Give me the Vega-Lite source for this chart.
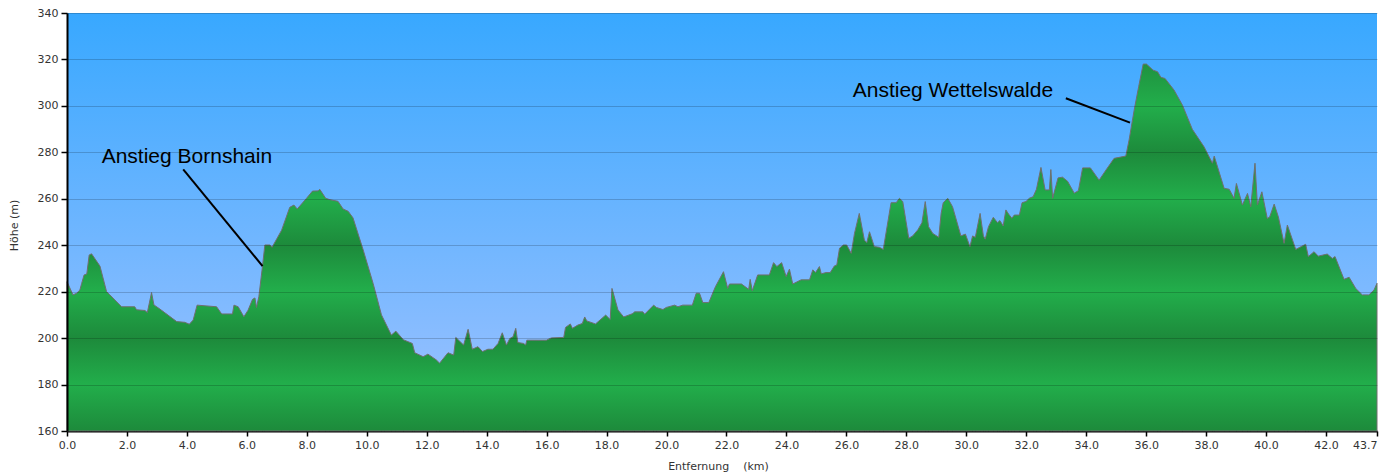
{
  "$schema": "https://vega.github.io/schema/vega-lite/v6.json",
  "width": 1310,
  "height": 418,
  "autosize": {"type": "none"},
  "padding": {"left": 67, "top": 13, "right": 15, "bottom": 42},
  "background": "white",
  "config": {"view": {"stroke": null}},
  "datasets": {
    "profil": [
      {"km": 0.0, "hoehe": 224.3}, {"km": 0.2, "hoehe": 218.6}, {"km": 0.32, "hoehe": 219.3}, {"km": 0.43, "hoehe": 220.7},
      {"km": 0.49, "hoehe": 223.6}, {"km": 0.57, "hoehe": 227.2}, {"km": 0.66, "hoehe": 227.6}, {"km": 0.74, "hoehe": 235.8},
      {"km": 0.82, "hoehe": 236.3}, {"km": 1.1, "hoehe": 231.0}, {"km": 1.32, "hoehe": 220.0}, {"km": 1.43, "hoehe": 218.6},
      {"km": 1.82, "hoehe": 213.5}, {"km": 2.26, "hoehe": 213.5}, {"km": 2.32, "hoehe": 212.2}, {"km": 2.6, "hoehe": 211.9},
      {"km": 2.68, "hoehe": 211.0}, {"km": 2.82, "hoehe": 219.6}, {"km": 2.9, "hoehe": 214.3}, {"km": 3.1, "hoehe": 212.5},
      {"km": 3.66, "hoehe": 207.1}, {"km": 3.93, "hoehe": 206.8}, {"km": 4.08, "hoehe": 206.0}, {"km": 4.21, "hoehe": 207.8},
      {"km": 4.34, "hoehe": 214.2}, {"km": 4.99, "hoehe": 213.5}, {"km": 5.16, "hoehe": 210.4}, {"km": 5.52, "hoehe": 210.4},
      {"km": 5.57, "hoehe": 214.2}, {"km": 5.71, "hoehe": 213.5}, {"km": 5.9, "hoehe": 209.2}, {"km": 6.04, "hoehe": 212.0},
      {"km": 6.19, "hoehe": 216.7}, {"km": 6.27, "hoehe": 217.3}, {"km": 6.32, "hoehe": 213.2}, {"km": 6.4, "hoehe": 217.8},
      {"km": 6.52, "hoehe": 230.8}, {"km": 6.6, "hoehe": 240.1}, {"km": 6.77, "hoehe": 240.1}, {"km": 6.84, "hoehe": 239.1},
      {"km": 7.16, "hoehe": 246.5}, {"km": 7.43, "hoehe": 256.3}, {"km": 7.57, "hoehe": 257.3}, {"km": 7.68, "hoehe": 255.6},
      {"km": 7.99, "hoehe": 260.2}, {"km": 8.19, "hoehe": 263.3}, {"km": 8.38, "hoehe": 263.4}, {"km": 8.43, "hoehe": 264.1},
      {"km": 8.63, "hoehe": 260.2}, {"km": 8.77, "hoehe": 259.6}, {"km": 9.04, "hoehe": 258.9}, {"km": 9.21, "hoehe": 255.6},
      {"km": 9.38, "hoehe": 254.6}, {"km": 9.54, "hoehe": 251.8}, {"km": 9.88, "hoehe": 238.0}, {"km": 10.21, "hoehe": 223.6},
      {"km": 10.49, "hoehe": 210.0}, {"km": 10.6, "hoehe": 207.1}, {"km": 10.82, "hoehe": 201.3}, {"km": 10.97, "hoehe": 203.0},
      {"km": 11.22, "hoehe": 199.3}, {"km": 11.52, "hoehe": 197.7}, {"km": 11.6, "hoehe": 193.7}, {"km": 11.88, "hoehe": 192.0},
      {"km": 12.04, "hoehe": 193.1}, {"km": 12.32, "hoehe": 190.6}, {"km": 12.43, "hoehe": 189.2}, {"km": 12.71, "hoehe": 193.7},
      {"km": 12.9, "hoehe": 192.7}, {"km": 12.97, "hoehe": 200.3}, {"km": 13.23, "hoehe": 197.0}, {"km": 13.38, "hoehe": 203.8},
      {"km": 13.52, "hoehe": 195.2}, {"km": 13.71, "hoehe": 196.3}, {"km": 13.86, "hoehe": 194.2}, {"km": 14.04, "hoehe": 195.2},
      {"km": 14.21, "hoehe": 195.2}, {"km": 14.38, "hoehe": 197.7}, {"km": 14.52, "hoehe": 202.3}, {"km": 14.66, "hoehe": 197.0},
      {"km": 14.77, "hoehe": 199.8}, {"km": 14.88, "hoehe": 200.6}, {"km": 14.97, "hoehe": 204.2}, {"km": 15.04, "hoehe": 198.1},
      {"km": 15.23, "hoehe": 197.7}, {"km": 15.3, "hoehe": 197.0}, {"km": 15.34, "hoehe": 199.1}, {"km": 15.99, "hoehe": 199.1},
      {"km": 16.16, "hoehe": 200.1}, {"km": 16.57, "hoehe": 200.3}, {"km": 16.63, "hoehe": 204.6}, {"km": 16.79, "hoehe": 206.1},
      {"km": 16.86, "hoehe": 204.2}, {"km": 17.04, "hoehe": 205.6}, {"km": 17.19, "hoehe": 206.3}, {"km": 17.27, "hoehe": 209.1},
      {"km": 17.34, "hoehe": 207.4}, {"km": 17.63, "hoehe": 206.1}, {"km": 17.97, "hoehe": 209.9}, {"km": 18.12, "hoehe": 208.0},
      {"km": 18.18, "hoehe": 221.4}, {"km": 18.38, "hoehe": 212.1}, {"km": 18.57, "hoehe": 209.1}, {"km": 18.88, "hoehe": 210.6},
      {"km": 18.93, "hoehe": 211.3}, {"km": 19.21, "hoehe": 211.3}, {"km": 19.27, "hoehe": 210.3}, {"km": 19.57, "hoehe": 214.2},
      {"km": 19.66, "hoehe": 213.2}, {"km": 19.88, "hoehe": 212.3}, {"km": 19.99, "hoehe": 213.2}, {"km": 20.27, "hoehe": 214.2},
      {"km": 20.38, "hoehe": 213.5}, {"km": 20.54, "hoehe": 214.2}, {"km": 20.86, "hoehe": 214.2}, {"km": 20.99, "hoehe": 219.3},
      {"km": 21.1, "hoehe": 219.3}, {"km": 21.21, "hoehe": 215.3}, {"km": 21.41, "hoehe": 215.3}, {"km": 21.63, "hoehe": 222.1},
      {"km": 21.9, "hoehe": 228.6}, {"km": 22.04, "hoehe": 221.4}, {"km": 22.1, "hoehe": 223.3}, {"km": 22.5, "hoehe": 223.3},
      {"km": 22.74, "hoehe": 221.0}, {"km": 22.79, "hoehe": 225.3}, {"km": 22.86, "hoehe": 220.4}, {"km": 23.04, "hoehe": 227.2},
      {"km": 23.43, "hoehe": 227.2}, {"km": 23.57, "hoehe": 232.5}, {"km": 23.68, "hoehe": 230.8}, {"km": 23.84, "hoehe": 232.5},
      {"km": 23.99, "hoehe": 226.5}, {"km": 24.1, "hoehe": 229.7}, {"km": 24.21, "hoehe": 223.3}, {"km": 24.49, "hoehe": 225.1},
      {"km": 24.77, "hoehe": 225.1}, {"km": 24.88, "hoehe": 229.4}, {"km": 24.97, "hoehe": 228.2}, {"km": 25.1, "hoehe": 230.8},
      {"km": 25.16, "hoehe": 227.7}, {"km": 25.32, "hoehe": 228.2}, {"km": 25.46, "hoehe": 228.2}, {"km": 25.6, "hoehe": 231.1},
      {"km": 25.68, "hoehe": 231.5}, {"km": 25.77, "hoehe": 238.7}, {"km": 25.9, "hoehe": 240.1}, {"km": 26.01, "hoehe": 240.1},
      {"km": 26.16, "hoehe": 236.5}, {"km": 26.27, "hoehe": 245.1}, {"km": 26.43, "hoehe": 253.7}, {"km": 26.6, "hoehe": 242.2},
      {"km": 26.68, "hoehe": 241.1}, {"km": 26.77, "hoehe": 245.8}, {"km": 26.93, "hoehe": 239.4}, {"km": 27.1, "hoehe": 239.1},
      {"km": 27.23, "hoehe": 238.2}, {"km": 27.49, "hoehe": 258.3}, {"km": 27.66, "hoehe": 258.3}, {"km": 27.77, "hoehe": 260.2},
      {"km": 27.88, "hoehe": 258.8}, {"km": 28.08, "hoehe": 243.0}, {"km": 28.21, "hoehe": 244.0}, {"km": 28.38, "hoehe": 246.6},
      {"km": 28.52, "hoehe": 249.7}, {"km": 28.63, "hoehe": 258.8}, {"km": 28.74, "hoehe": 248.0}, {"km": 28.88, "hoehe": 245.1},
      {"km": 29.08, "hoehe": 243.4}, {"km": 29.16, "hoehe": 253.7}, {"km": 29.23, "hoehe": 258.3}, {"km": 29.38, "hoehe": 260.2},
      {"km": 29.54, "hoehe": 256.6}, {"km": 29.82, "hoehe": 244.0}, {"km": 29.97, "hoehe": 244.8}, {"km": 30.12, "hoehe": 239.4},
      {"km": 30.21, "hoehe": 244.0}, {"km": 30.3, "hoehe": 243.4}, {"km": 30.46, "hoehe": 253.7}, {"km": 30.57, "hoehe": 244.0},
      {"km": 30.63, "hoehe": 242.6}, {"km": 30.74, "hoehe": 248.0}, {"km": 30.9, "hoehe": 252.0}, {"km": 31.04, "hoehe": 249.7},
      {"km": 31.12, "hoehe": 250.6}, {"km": 31.23, "hoehe": 248.3}, {"km": 31.32, "hoehe": 255.2}, {"km": 31.41, "hoehe": 253.4},
      {"km": 31.52, "hoehe": 251.6}, {"km": 31.6, "hoehe": 253.0}, {"km": 31.77, "hoehe": 253.0}, {"km": 31.86, "hoehe": 258.3},
      {"km": 31.99, "hoehe": 258.8}, {"km": 32.1, "hoehe": 260.2}, {"km": 32.23, "hoehe": 260.9}, {"km": 32.34, "hoehe": 264.1},
      {"km": 32.49, "hoehe": 273.5}, {"km": 32.63, "hoehe": 263.8}, {"km": 32.77, "hoehe": 263.8}, {"km": 32.82, "hoehe": 272.6},
      {"km": 32.88, "hoehe": 260.2}, {"km": 33.06, "hoehe": 269.0}, {"km": 33.21, "hoehe": 269.3}, {"km": 33.38, "hoehe": 267.5},
      {"km": 33.6, "hoehe": 262.4}, {"km": 33.74, "hoehe": 263.5}, {"km": 33.88, "hoehe": 273.3}, {"km": 34.14, "hoehe": 273.3},
      {"km": 34.43, "hoehe": 268.0}, {"km": 34.66, "hoehe": 272.4}, {"km": 34.93, "hoehe": 277.4}, {"km": 35.32, "hoehe": 278.4},
      {"km": 35.43, "hoehe": 285.3}, {"km": 35.6, "hoehe": 298.2}, {"km": 35.75, "hoehe": 308.3}, {"km": 35.9, "hoehe": 318.0},
      {"km": 36.01, "hoehe": 318.0}, {"km": 36.23, "hoehe": 315.4}, {"km": 36.38, "hoehe": 314.7}, {"km": 36.49, "hoehe": 312.3},
      {"km": 36.63, "hoehe": 311.8}, {"km": 36.93, "hoehe": 306.8}, {"km": 37.21, "hoehe": 300.3}, {"km": 37.54, "hoehe": 289.9},
      {"km": 37.93, "hoehe": 282.4}, {"km": 38.21, "hoehe": 275.3}, {"km": 38.27, "hoehe": 278.4}, {"km": 38.6, "hoehe": 264.5},
      {"km": 38.77, "hoehe": 264.1}, {"km": 38.93, "hoehe": 260.2}, {"km": 39.01, "hoehe": 266.6}, {"km": 39.21, "hoehe": 257.3},
      {"km": 39.38, "hoehe": 262.3}, {"km": 39.49, "hoehe": 256.6}, {"km": 39.63, "hoehe": 275.3}, {"km": 39.71, "hoehe": 257.3},
      {"km": 39.86, "hoehe": 263.0}, {"km": 40.04, "hoehe": 251.5}, {"km": 40.12, "hoehe": 252.2}, {"km": 40.27, "hoehe": 257.7},
      {"km": 40.41, "hoehe": 252.2}, {"km": 40.6, "hoehe": 240.8}, {"km": 40.71, "hoehe": 248.7}, {"km": 40.99, "hoehe": 238.2},
      {"km": 41.32, "hoehe": 240.4}, {"km": 41.41, "hoehe": 235.1}, {"km": 41.6, "hoehe": 237.2}, {"km": 41.74, "hoehe": 235.3},
      {"km": 42.04, "hoehe": 236.2}, {"km": 42.21, "hoehe": 234.3}, {"km": 42.3, "hoehe": 235.1}, {"km": 42.6, "hoehe": 225.3},
      {"km": 42.77, "hoehe": 226.2}, {"km": 42.99, "hoehe": 221.4}, {"km": 43.21, "hoehe": 218.6}, {"km": 43.43, "hoehe": 218.6},
      {"km": 43.6, "hoehe": 220.7}, {"km": 43.7, "hoehe": 223.6}
    ],
    "linien": [
      {"km": 3.877, "hoehe": 272.7, "km2": 6.523, "hoehe2": 231.0},
      {"km": 33.32, "hoehe": 303.3, "km2": 35.46, "hoehe2": 292.8}
    ],
    "beschriftung": [
      {"label": "Anstieg Bornshain", "km": 1.157, "hoehe": 275.5},
      {"label": "Anstieg Wettelswalde", "km": 26.21, "hoehe": 303.7}
    ]
  },
  "layer": [
    {
      "data": {"values": [{}]},
      "mark": {
        "type": "rect",
        "fill": {
          "gradient": "linear", "x1": 0, "y1": 0, "x2": 0, "y2": 1,
          "stops": [
            {"offset": 0, "color": "#38a8ff"},
            {"offset": 1, "color": "#a0c2ff"}
          ]
        }
      },
      "encoding": {
        "x": {"datum": 0, "type": "quantitative", "scale": {"domain": [0, 43.7], "nice": false, "zero": false}},
        "x2": {"datum": 43.7},
        "y": {"datum": 340, "type": "quantitative", "scale": {"domain": [160, 340], "nice": false, "zero": false}},
        "y2": {"datum": 160}
      }
    },
    {
      "data": {"name": "profil"},
      "mark": {
        "type": "area",
        "interpolate": "linear",
        "stroke": "#6f6f6f",
        "strokeWidth": 1,
        "fill": {
          "gradient": "linear", "x1": 0, "y1": 0, "x2": 0, "y2": 1,
          "stops": [
            {"offset": 0, "color": "#1f923f"},
            {"offset": 0.114, "color": "#22ae4b"},
            {"offset": 0.241, "color": "#1d8a3b"},
            {"offset": 0.367, "color": "#22ae4b"},
            {"offset": 0.494, "color": "#1d8a3b"},
            {"offset": 0.62, "color": "#22ae4b"},
            {"offset": 0.747, "color": "#1d8a3b"},
            {"offset": 0.873, "color": "#22ae4b"},
            {"offset": 1, "color": "#1d8a3b"}
          ]
        }
      },
      "encoding": {
        "x": {
          "field": "km", "type": "quantitative",
          "scale": {"domain": [0, 43.7], "nice": false, "zero": false},
          "axis": {
            "values": [0, 2, 4, 6, 8, 10, 12, 14, 16, 18, 20, 22, 24, 26, 28, 30, 32, 34, 36, 38, 40, 42, 43.7],
            "format": ".1f",
            "labelFlush": false,
            "labelOverlap": false,
            "labelAlign": {"condition": {"test": "datum.value > 43", "value": "right"}, "value": "center"},
            "labelFont": "DejaVu Sans", "labelFontSize": 11, "labelColor": "#333333", "labelPadding": 3,
            "tickColor": "#000000", "tickSize": 5, "tickWidth": 1.5,
            "domainColor": "#000000", "domainWidth": 2,
            "grid": false,
            "title": "Entfernung\u00a0\u00a0\u00a0 (km)",
            "titleFont": "DejaVu Sans", "titleFontSize": 11, "titleFontWeight": "normal", "titleColor": "#333333",
            "titleX": 651, "titleY": 35, "titleAlign": "center", "titleBaseline": "middle"
          }
        },
        "y": {
          "field": "hoehe", "type": "quantitative",
          "scale": {"domain": [160, 340], "nice": false, "zero": false},
          "axis": {
            "values": [160, 180, 200, 220, 240, 260, 280, 300, 320, 340],
            "format": "d",
            "labelFont": "DejaVu Sans", "labelFontSize": 11, "labelColor": "#333333", "labelPadding": 3,
            "tickColor": "#000000", "tickSize": 6, "tickWidth": 1.5,
            "domainColor": "#000000", "domainWidth": 2,
            "grid": true, "gridColor": "#000000", "gridOpacity": 0.18, "gridWidth": 1,
            "zindex": 1,
            "title": "Höhe (m)",
            "titleFont": "DejaVu Sans", "titleFontSize": 11, "titleFontWeight": "normal", "titleColor": "#333333",
            "titleAngle": -90, "titleX": -53, "titleY": 212, "titleAlign": "center", "titleBaseline": "middle"
          }
        },
        "y2": {"datum": 160}
      }
    },
    {
      "data": {"name": "linien"},
      "mark": {"type": "rule", "color": "#000000", "strokeWidth": 2},
      "encoding": {
        "x": {"field": "km", "type": "quantitative"},
        "x2": {"field": "km2"},
        "y": {"field": "hoehe", "type": "quantitative"},
        "y2": {"field": "hoehe2"}
      }
    },
    {
      "data": {"name": "beschriftung"},
      "mark": {"type": "text", "font": "Liberation Sans", "fontSize": 21, "color": "#000000", "align": "left", "baseline": "alphabetic"},
      "encoding": {
        "x": {"field": "km", "type": "quantitative"},
        "y": {"field": "hoehe", "type": "quantitative"},
        "text": {"field": "label"}
      }
    }
  ]
}
